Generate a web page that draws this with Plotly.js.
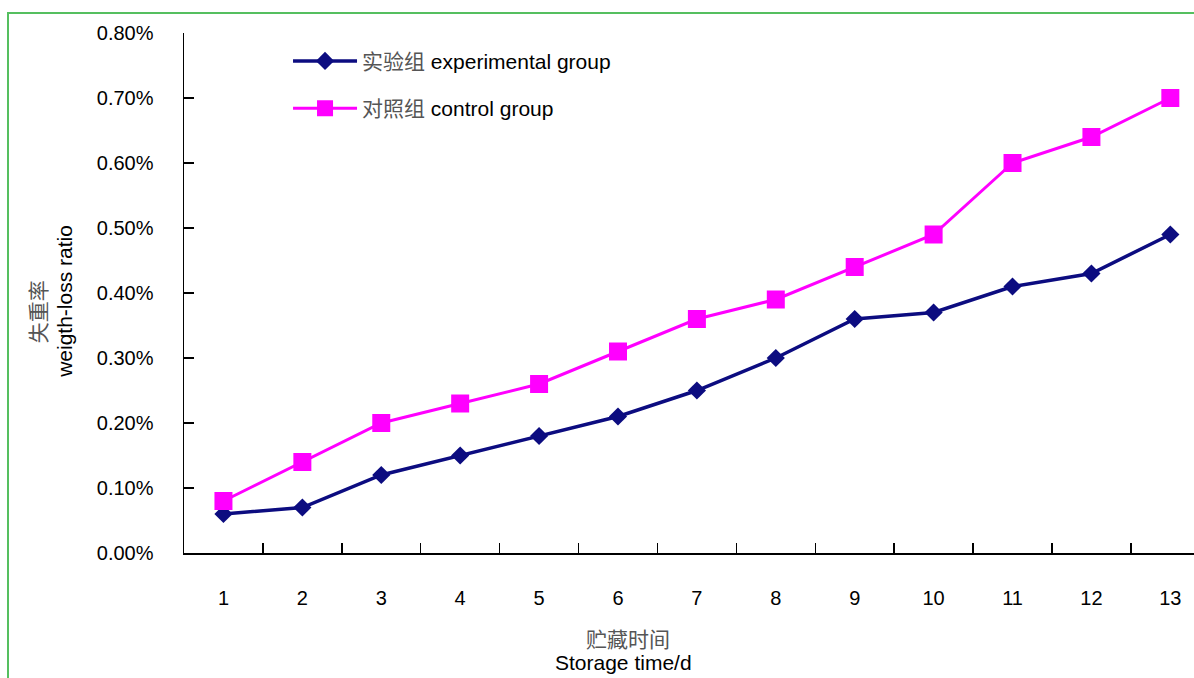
<!DOCTYPE html>
<html>
<head>
<meta charset="utf-8">
<script src="https://cdn.plot.ly/plotly-3.0.1.min.js"></script>
<style>
  html, body { margin: 0; padding: 0; background: #fff; }
  #wrap { position: relative; width: 1194px; height: 678px; overflow: hidden; }
  #chart { position: absolute; left: 0; top: 0; width: 1194px; height: 678px; }
  #frame { position: absolute; left: 7px; top: 12px; right: -10px; bottom: -10px;
           border-left: 2px solid #55bf5f; border-top: 2px solid #55bf5f; pointer-events: none; }
</style>
</head>
<body>
<div id="wrap">
  <div id="chart"></div>
  <div id="frame"></div>
</div>
<script>
// Storage days
const days = ['1','2','3','4','5','6','7','8','9','10','11','12','13'];
// Weight-loss ratio (%), experimental group
const experimental = [0.06, 0.07, 0.12, 0.15, 0.18, 0.21, 0.25, 0.30, 0.36, 0.37, 0.41, 0.43, 0.49];
// Weight-loss ratio (%), control group
const control = [0.08, 0.14, 0.20, 0.23, 0.26, 0.31, 0.36, 0.39, 0.44, 0.49, 0.60, 0.64, 0.70];
const yTicks = [0, 0.1, 0.2, 0.3, 0.4, 0.5, 0.6, 0.7, 0.8];
const yTickText = yTicks.map(v => v.toFixed(2) + '%');

const fontEn = 'Liberation Sans, Arial, sans-serif';
const fontCjk = 'Noto Sans CJK SC, sans-serif';
const cjk = (s) => '<span style="font-family:Noto Sans CJK SC;color:#555">' + s + '</span>';

const traces = [
  {
    x: days, y: experimental, type: 'scatter', mode: 'lines+markers',
    name: cjk('实验组') + ' experimental group', legendgroup: 'exp',
    line: { color: '#0c0c80', width: 3.5 },
    marker: { symbol: 'diamond', size: 14, color: '#0c0c80' }
  },
  {
    x: days, y: control, type: 'scatter', mode: 'lines+markers',
    name: cjk('对照组') + ' control group', legendgroup: 'ctl',
    line: { color: '#ff00ff', width: 3 },
    marker: { symbol: 'square', size: 18, color: '#ff00ff' }
  }
];

const layout = {
  width: 1194, height: 678,
  margin: { l: 184, r: 0, t: 33, b: 125, pad: 0 },
  paper_bgcolor: '#ffffff', plot_bgcolor: '#ffffff',
  font: { family: fontEn, size: 20, color: '#000' },
  showlegend: true,
  legend: {
    x: 0.103, y: 0.985, xanchor: 'left', yanchor: 'top',
    bgcolor: 'rgba(0,0,0,0)', borderwidth: 0,
    font: { family: fontEn, size: 21, color: '#000' },
    traceorder: 'grouped', tracegroupgap: 17, itemwidth: 64
  },
  xaxis: {
    type: 'category', range: [-0.5, 12.3],
    tickson: 'boundaries', ticks: 'inside', ticklen: 10, tickwidth: 1.5, tickcolor: '#000',
    showline: true, linecolor: '#000', linewidth: 1.5,
    showgrid: false, zeroline: false,
    ticklabelstandoff: 26,
    tickfont: { family: fontEn, size: 20, color: '#000' }
  },
  yaxis: {
    range: [0, 0.8], tickmode: 'array', tickvals: yTicks, ticktext: yTickText,
    ticks: 'inside', ticklen: 10, tickwidth: 1.5, tickcolor: '#000',
    showline: true, linecolor: '#000', linewidth: 1.5,
    showgrid: false, zeroline: false,
    ticklabelstandoff: 25,
    tickfont: { family: fontEn, size: 20, color: '#000' }
  },
  annotations: [
    {
      xref: 'paper', yref: 'paper', x: -0.1455, y: 0.463, xanchor: 'center', yanchor: 'middle',
      textangle: -90, showarrow: false, text: '失重率',
      font: { family: fontCjk, size: 21, color: '#555' }
    },
    {
      xref: 'paper', yref: 'paper', x: -0.1178, y: 0.483, xanchor: 'center', yanchor: 'middle',
      textangle: -90, showarrow: false, text: 'weigth-loss ratio',
      font: { family: fontEn, size: 21, color: '#000' }
    },
    {
      xref: 'paper', yref: 'paper', x: 0.4396, y: -0.164, xanchor: 'center', yanchor: 'middle',
      showarrow: false, text: '贮藏时间',
      font: { family: fontCjk, size: 21, color: '#555' }
    },
    {
      xref: 'paper', yref: 'paper', x: 0.4356, y: -0.2105, xanchor: 'center', yanchor: 'middle',
      showarrow: false, text: 'Storage time/d',
      font: { family: fontEn, size: 21, color: '#000' }
    }
  ]
};

Plotly.newPlot('chart', traces, layout, { displayModeBar: false, staticPlot: true });
</script>
</body>
</html>
